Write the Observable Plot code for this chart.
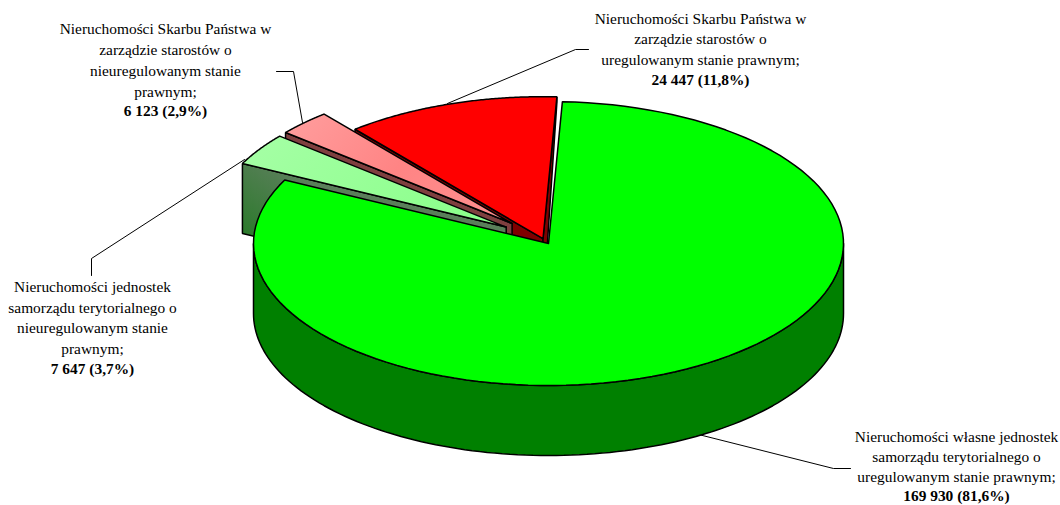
<!DOCTYPE html>
<html><head><meta charset="utf-8">
<style>html,body{margin:0;padding:0;background:#fff}svg{display:block}</style>
<script src="https://cdn.jsdelivr.net/npm/d3@7"></script>
<script src="https://cdn.jsdelivr.net/npm/@observablehq/plot@0.6"></script>
</head><body><div id="chart"></div>
<script>
// data
const categories = [
  "Nieruchomości własne jednostek samorządu terytorialnego o uregulowanym stanie prawnym",
  "Nieruchomości jednostek samorządu terytorialnego o nieuregulowanym stanie prawnym",
  "Nieruchomości Skarbu Państwa w zarządzie starostów o nieuregulowanym stanie prawnym",
  "Nieruchomości Skarbu Państwa w zarządzie starostów o uregulowanym stanie prawnym"
];
const values = [169930, 7647, 6123, 24447];
const valueLabels = ["169 930 (81,6%)", "7 647 (3,7%)", "6 123 (2,9%)", "24 447 (11,8%)"];
const labelLines = [
  ["Nieruchomości własne jednostek", "samorządu terytorialnego o", "uregulowanym stanie prawnym;"],
  ["Nieruchomości jednostek", "samorządu terytorialnego o", "nieuregulowanym stanie", "prawnym;"],
  ["Nieruchomości Skarbu Państwa w", "zarządzie starostów o", "nieuregulowanym stanie", "prawnym;"],
  ["Nieruchomości Skarbu Państwa w", "zarządzie starostów o", "uregulowanym stanie prawnym;"]
];
// layout of the pie and annotations
const centre = [548, 243], radii = [295, 142], thickness = 70, firstAngle = 2.7;
const shiftX = [0, -42.3, -36.4, -5.5], shiftY = [0, -16.4, -20, -4.8];
const topFill = ["#00ff00", "url(#lg)", "url(#pk)", "#ff0000"];
const wallFill = ["#008000", "url(#lgw)", "#7f3f3f", "#800000"];
const labelX = [956, 92, 165, 700];
const labelY = [[437, 457, 477, 496], [287, 308, 328, 349, 369], [29, 50, 71, 92, 111], [19, 39, 60, 80]];
const leaders = [
  [[698, 434], [833, 468], [850, 468]],
  [[91, 275], [91, 258], [244, 159]],
  [[276, 71], [293, 71], [302, 122]],
  [[447, 103], [575, 49], [588, 49]]
];

const total = d3.sum(values);
const rad = d => d * Math.PI / 180;
let acc = firstAngle;
const slices = values.map((v, i) => {
  const a0 = acc, a1 = acc + v / total * 360; acc = a1;
  const cx = centre[0] + shiftX[i], cy = centre[1] + shiftY[i];
  return {i, a0, a1, apex: [cx, cy],
    rim: a => [cx + radii[0] * Math.sin(rad(a)), cy - radii[1] * Math.cos(rad(a))]};
});
// the far rim of a 3D pie looks thinner
const drop = ([x, y]) => [x, y + thickness * Math.min(1, Math.max(0.08, (y - 94) / 50))];
const arc = (s, a0, a1) => d3.range(0, 121).map(k => s.rim(a0 + (a1 - a0) * k / 120));
const poly = (pts, fill) => Plot.line([...pts, pts[0]], {
  x: d => d[0], y: d => d[1], fill, stroke: "#000", strokeWidth: 1.5, strokeLinejoin: "miter"
});
const sideWall = (s, a, fill) => {
  const p = s.rim(a);
  return poly([s.apex, p, drop(p), drop(s.apex)], fill);
};
const sliceMarks = s => {
  const m = [];
  if (s.i === 0) {
    const rimPts = arc(s, 90, 270);
    m.push(poly([...rimPts, ...rimPts.map(drop).reverse()], wallFill[0]));
  } else {
    m.push(sideWall(s, s.a0, wallFill[s.i]));
    if (s.a1 > 360) m.push(sideWall(s, s.a1, wallFill[s.i]));
  }
  m.push(poly([s.apex, ...arc(s, s.a0, s.a1)], topFill[s.i]));
  return m;
};
const grad = (id, attrs, stops) => {
  const g = d3.create("svg:linearGradient").attr("id", id);
  Object.entries(attrs).forEach(([k, v]) => g.attr(k, v));
  stops.forEach(([o, c]) => g.append("stop").attr("offset", o).attr("stop-color", c));
  return g.node();
};
const defs = () => {
  const d = d3.create("svg:defs");
  d.append(() => grad("lg", {x1: 0, y1: 0, x2: 1, y2: 0.3}, [[0, "#a6ffa6"], [1, "#8cff8c"]]));
  d.append(() => grad("pk", {x1: 0, y1: 0, x2: 1, y2: 0.4}, [[0, "#ff9e9e"], [0.6, "#ff8484"], [1, "#ff8c8c"]]));
  d.append(() => grad("lgw", {gradientUnits: "userSpaceOnUse", x1: 290, y1: 170, x2: 242, y2: 236},
    [[0, "#5a7f5a"], [1, "#2a7a2a"]]));
  return d.node();
};
const rows = labelLines.flatMap((ls, i) => ls.map((t, k) => ({t, x: labelX[i], y: labelY[i][k]})));
const boldRows = valueLabels.map((t, i) => ({t, x: labelX[i], y: labelY[i][labelY[i].length - 1]}));
const textOpts = {x: "x", y: "y", text: "t", fontFamily: "Liberation Serif", fontSize: 15.4, fill: "#000"};

const order = [3, 2, 1, 0];
document.getElementById("chart").append(Plot.plot({
  width: 1060, height: 505, margin: 0,
  x: {type: "identity", axis: null}, y: {type: "identity", axis: null},
  style: {background: "#fff"},
  marks: [
    defs,
    ...leaders.map(l => Plot.line(l, {x: d => d[0], y: d => d[1], stroke: "#000", strokeWidth: 1, strokeLinejoin: "miter"})),
    ...order.flatMap(i => sliceMarks(slices[i])),
    Plot.text(rows, textOpts),
    Plot.text(boldRows, {...textOpts, fontWeight: "bold"})
  ]
}));
</script></body></html>
